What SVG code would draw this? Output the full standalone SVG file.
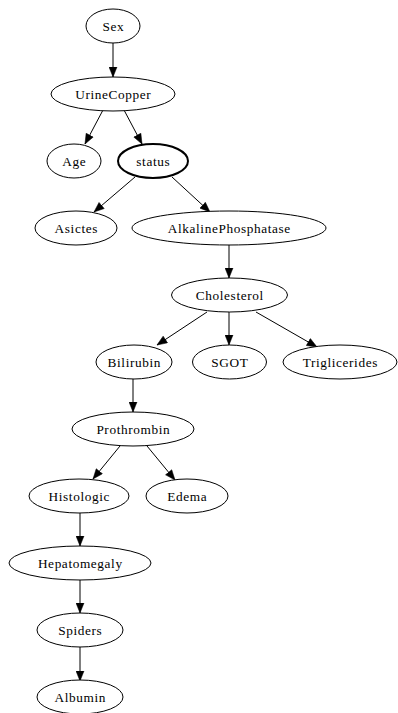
<svg xmlns="http://www.w3.org/2000/svg" width="398" height="713" viewBox="0 0 398 713">
<style>
.n ellipse{fill:#fff;stroke:#000;stroke-width:1}
.n text{font-family:"Liberation Serif","Times New Roman",serif;font-size:13.3px;letter-spacing:0.6px;fill:#000;text-anchor:middle;dominant-baseline:central}
.b ellipse{stroke-width:2}
#edges line{stroke:#000;stroke-width:1;marker-end:url(#ah)}
</style>
<defs>
<marker id="ah" markerUnits="userSpaceOnUse" markerWidth="11" markerHeight="9" refX="10.5" refY="4.5" orient="auto">
<path d="M0.5,0.5 L10.5,4.5 L0.5,8.5 z" fill="#000" stroke="#000" stroke-width="0.5"/>
</marker>
</defs>
<rect width="398" height="713" fill="#fff"/>
<g id="edges">
<line x1="113" y1="43" x2="113" y2="77"/>
<line x1="103" y1="110" x2="85" y2="144"/>
<line x1="124" y1="110" x2="142" y2="144"/>
<line x1="135" y1="177" x2="94" y2="212"/>
<line x1="172" y1="177" x2="210" y2="212"/>
<line x1="229" y1="244" x2="229" y2="278"/>
<line x1="207" y1="312" x2="157" y2="345"/>
<line x1="229" y1="312" x2="229" y2="345"/>
<line x1="256" y1="312" x2="317" y2="347"/>
<line x1="133" y1="379" x2="133" y2="412"/>
<line x1="120" y1="446" x2="93" y2="479"/>
<line x1="147" y1="446" x2="175" y2="480"/>
<line x1="80" y1="513" x2="80" y2="546"/>
<line x1="80" y1="580" x2="80" y2="613"/>
<line x1="80" y1="647" x2="80" y2="681"/>
</g>
<g id="Sex" class="n"><ellipse cx="113" cy="26" rx="27" ry="17"/><text x="113.3" y="26">Sex</text></g>
<g id="UrineCopper" class="n"><ellipse cx="113" cy="94" rx="62" ry="17"/><text x="113.3" y="94">UrineCopper</text></g>
<g id="Age" class="n"><ellipse cx="74" cy="161" rx="27" ry="17"/><text x="74.3" y="161">Age</text></g>
<g id="status" class="n b"><ellipse cx="153" cy="161" rx="35" ry="17"/><text x="153.3" y="161">status</text></g>
<g id="Asictes" class="n"><ellipse cx="76" cy="228" rx="41" ry="17"/><text x="76.3" y="228">Asictes</text></g>
<g id="AlkalinePhosphatase" class="n"><ellipse cx="229" cy="228" rx="97" ry="17"/><text x="229.3" y="228">AlkalinePhosphatase</text></g>
<g id="Cholesterol" class="n"><ellipse cx="229.5" cy="295" rx="58" ry="17"/><text x="229.8" y="295">Cholesterol</text></g>
<g id="Bilirubin" class="n"><ellipse cx="134" cy="362" rx="38" ry="17"/><text x="134.3" y="362">Bilirubin</text></g>
<g id="SGOT" class="n"><ellipse cx="229.5" cy="362" rx="37" ry="17"/><text x="229.8" y="362">SGOT</text></g>
<g id="Triglicerides" class="n"><ellipse cx="340" cy="362" rx="57" ry="17"/><text x="340.3" y="362">Triglicerides</text></g>
<g id="Prothrombin" class="n"><ellipse cx="133" cy="429" rx="61" ry="17"/><text x="133.3" y="429">Prothrombin</text></g>
<g id="Histologic" class="n"><ellipse cx="79" cy="496" rx="50" ry="17"/><text x="79.3" y="496">Histologic</text></g>
<g id="Edema" class="n"><ellipse cx="187" cy="496" rx="41" ry="17"/><text x="187.3" y="496">Edema</text></g>
<g id="Hepatomegaly" class="n"><ellipse cx="80" cy="563" rx="71" ry="17"/><text x="80.3" y="563">Hepatomegaly</text></g>
<g id="Spiders" class="n"><ellipse cx="80" cy="630" rx="43" ry="17"/><text x="80.3" y="630">Spiders</text></g>
<g id="Albumin" class="n"><ellipse cx="80" cy="697" rx="43" ry="17"/><text x="80.3" y="697">Albumin</text></g>
</svg>
